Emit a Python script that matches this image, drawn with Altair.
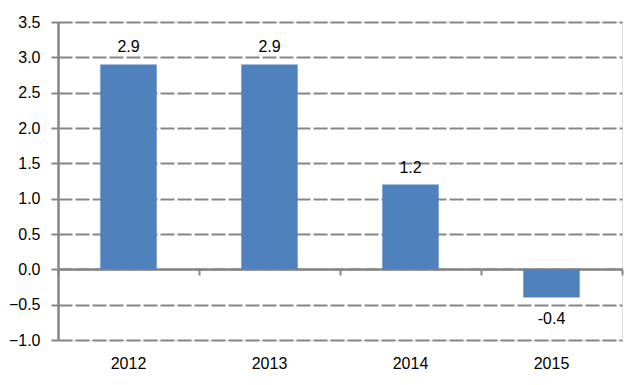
import altair as alt
import pandas as pd

years = ["2012", "2013", "2014", "2015"]
values = [2.9, 2.9, 1.2, -0.4]
labels = ["2.9", "2.9", "1.2", "-0.4"]

df = pd.DataFrame({"year": years, "value": values, "label": labels})

GRAY = "#868686"
FONT = "Liberation Sans"
W, H = 564, 318
YMIN, YMAX = -1.0, 3.5
zero_offset = -round(H * (0 - YMIN) / (YMAX - YMIN))

xscale = alt.Scale(paddingInner=0.6, paddingOuter=0.3)
yscale = alt.Scale(domain=[YMIN, YMAX], nice=False, zero=False)

yaxis = alt.Axis(
    values=[-1.0, -0.5, 0.0, 0.5, 1.0, 1.5, 2.0, 2.5, 3.0, 3.5],
    format=".1f", title=None, grid=True, gridColor=GRAY, gridWidth=2,
    gridDash=[14, 3], domainColor=GRAY, domainWidth=2.5, tickColor=GRAY,
    tickWidth=2, tickSize=7, labelFont=FONT, labelFontSize=16,
    labelColor="#000000", labelPadding=11,
)
xaxis = alt.Axis(orient="bottom", title=None, domain=False, ticks=False,
                 labelAngle=0, labelFont=FONT, labelFontSize=16,
                 labelColor="#000000", labelPadding=15, grid=False)

X = alt.X("year:N", scale=xscale, sort=years, axis=xaxis)
Y = alt.Y("value:Q", scale=yscale, axis=yaxis)

bars = alt.Chart(df).mark_bar(color="#4F81BD").encode(x=X, y=Y)

pos = alt.Chart(df).transform_filter("datum.value >= 0").mark_text(
    font=FONT, fontSize=16, color="#000000", dy=-17
).encode(x=X, y=Y, text="label:N")

neg = alt.Chart(df).transform_filter("datum.value < 0").mark_text(
    font=FONT, fontSize=16, color="#000000", dy=21
).encode(x=X, y=Y, text="label:N")

main = alt.layer(bars, pos, neg)

zero_axis = alt.Chart(df).mark_bar(opacity=0).encode(
    x=alt.X("year:N", sort=years,
            scale=alt.Scale(paddingInner=0, paddingOuter=0),
            axis=alt.Axis(orient="bottom", title=None, offset=zero_offset,
                          domain=True, domainColor=GRAY, domainWidth=2.5,
                          ticks=True, tickBand="extent", tickColor=GRAY,
                          tickWidth=2, tickSize=6, labels=False, grid=False)),
    y=Y,
)

chart = alt.layer(main, zero_axis).resolve_scale(x="independent").properties(
    width=W, height=H,
    autosize=alt.AutoSizeParams(type="none"),
    padding={"left": 50, "top": 14, "right": 11, "bottom": 37},
).configure_view(stroke=None).configure(background="#ffffff")

chart.save("out.html", embed_options={"renderer": "svg", "actions": False})
